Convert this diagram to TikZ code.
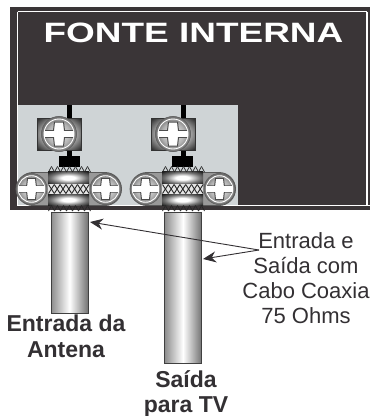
\documentclass[tikz,border=0pt]{standalone}
\usepackage{fontspec}
\usepackage{graphicx}
\setmainfont{Liberation Sans}
\usetikzlibrary{arrows.meta}
\definecolor{boxdark}{HTML}{3A3537}
\definecolor{panel}{HTML}{CFD4D6}
\definecolor{inkdark}{HTML}{333033}
\pgfdeclareradialshading{barrelmetal}{\pgfpoint{0bp}{0bp}}{color(0bp)=(white);color(8bp)=(white);color(22bp)=(black!55);color(34bp)=(black!88);color(100bp)=(black!88)}
\pgfdeclareradialshading{squaremetal}{\pgfpoint{0bp}{0bp}}{color(0bp)=(white);color(18bp)=(black!30);color(34bp)=(black!82);color(100bp)=(black!82)}
\pgfdeclareradialshading{headmetal}{\pgfpoint{0bp}{0bp}}{color(0bp)=(black!5);color(16bp)=(black!30);color(28bp)=(black!65);color(34bp)=(black!72);color(100bp)=(black!72)}
\tikzset{
  x=1pt,y=-1pt,
  screwhead/.pic={
    \begin{scope}[scale=#1/17.5]
    \fill[shading=headmetal,draw=black!60,line width=0.7pt] (0,0) circle[radius=17.5];
    \draw[white,line width=0.9pt] (0,0) circle[radius=15];
    \fill[white,draw=black!70,line width=1.0pt] (-4.5,-12) -- (4.5,-12) -- (5.5,-3.4) -- (13.5,-3.4) -- (13.5,3.4) -- (5.5,3.4) -- (4.5,12) -- (-4.5,12) -- (-5.5,3.4) -- (-13.5,3.4) -- (-13.5,-3.4) -- (-5.5,-3.4) -- cycle;
    \fill[white] (-15,-3) rectangle (15,3);
    \end{scope}
  },
  terminal/.pic={
    % pill behind the barrel
    \fill[black!40,draw=black!65,line width=0.9pt,rounded corners=16.5pt] (-52,-16.5) rectangle (53,16.5);
    \pic at (-37,0) {screwhead=15.5};
    \pic at (37,0) {screwhead=15.5};
    % barrel
    \fill[shading=barrelmetal] (-20.5,-17.5) rectangle (20.5,-5);
    \fill[shading=barrelmetal] (-20.5,5) rectangle (20.5,16.5);
    \fill[black!10] (-20.5,-5) rectangle (20.5,5);
    \foreach \k in {0,...,6}{
      \draw[black!85,line width=0.9pt] (-20+\k*5.8,-4.5) -- (-14.2+\k*5.8,4.5);
      \draw[black!85,line width=0.9pt] (-14.2+\k*5.8,-4.5) -- (-20+\k*5.8,4.5);
    }
    % teeth above and below
    \foreach \k in {0,...,6}{
      \draw[black!85,line width=0.7pt] (-20+\k*6,-17) -- (-17+\k*6,-22.5);
      \draw[black!85,line width=0.7pt] (-14+\k*6,-17) -- (-17+\k*6,-22.5);
      \draw[black!85,line width=0.7pt] (-20+\k*6,22) -- (-17+\k*6,16.5);
      \draw[black!85,line width=0.7pt] (-14+\k*6,22) -- (-17+\k*6,16.5);
    }
  },
  topscrew/.pic={
    \fill[shading=squaremetal,draw=black!80,line width=0.5pt] (-22,-16) rectangle (22,16);
    \pic at (0,0) {screwhead=17.5};
  },
  cable/.style={draw=black!75,line width=0.9pt,left color=black!45,right color=black!55,middle color=white,minimum width=37pt,inner sep=0pt,anchor=north},
  pointer/.style={draw=inkdark,line width=0.9pt,-{Stealth[length=13pt,width=11pt]}},
  lbl/.style={text=inkdark,align=center,inner sep=0pt,font=\fontsize{22}{25}\selectfont},
  blbl/.style={text=inkdark,align=center,inner sep=0pt,font=\fontsize{23}{25.5}\selectfont\bfseries},
}
\begin{document}
\begin{tikzpicture}
\useasboundingbox (0,0) rectangle (370,416);
\fill[white] (0,0) rectangle (370,416);
% housing
\fill[boxdark] (10,7) rectangle (370,210);
\draw[white,line width=1.6pt] (17.5,11.5) -- (367,11.5);
\draw[white,line width=1.6pt] (17.5,11.5) -- (17.5,205.5) -- (370,205.5);
\draw[white,line width=1.6pt] (367,11.5) -- (367,205.5);
\fill[panel] (18.3,105) rectangle (238,204.7);
\node[text=white,inner sep=0pt,anchor=base,font=\fontsize{28}{30}\selectfont\bfseries] (title) at (193.5,42.5) {\scalebox{1.32}[1]{FONTE INTERNA}};
% cables
\node[cable,minimum height=101pt] (cableA) at (69.5,212) {};
\node[cable,minimum height=151pt] (cableB) at (183,212) {};
% left terminal
\fill[black] (67,105) rectangle (72,118);
\fill[black] (67,150) rectangle (72,157);
\fill[black] (59,156) rectangle (80,167);
\pic at (59,134) {topscrew};
\pic at (68.5,189) {terminal};
% right terminal
\fill[black] (181,105) rectangle (186,118);
\fill[black] (181,150) rectangle (186,157);
\fill[black] (172,156) rectangle (193,167);
\pic at (173,134) {topscrew};
\pic at (182.5,189) {terminal};
% labels
\node[lbl,anchor=north] (note) at (306,232) {Entrada e\\Saída com\\Cabo Coaxia\\75 Ohms};
\node[blbl,anchor=north] (inlbl) at (66,315) {Entrada da\\Antena};
\node[blbl,anchor=north] (outlbl) at (186,370) {Saída\\para TV};
% arrows
\coordinate (hub) at (259,250);
\coordinate (tipA) at (90,222);
\coordinate (tipB) at (203,259);
\draw[pointer] (hub) -- (tipA);
\draw[pointer] (hub) -- (tipB);
\end{tikzpicture}
\end{document}
